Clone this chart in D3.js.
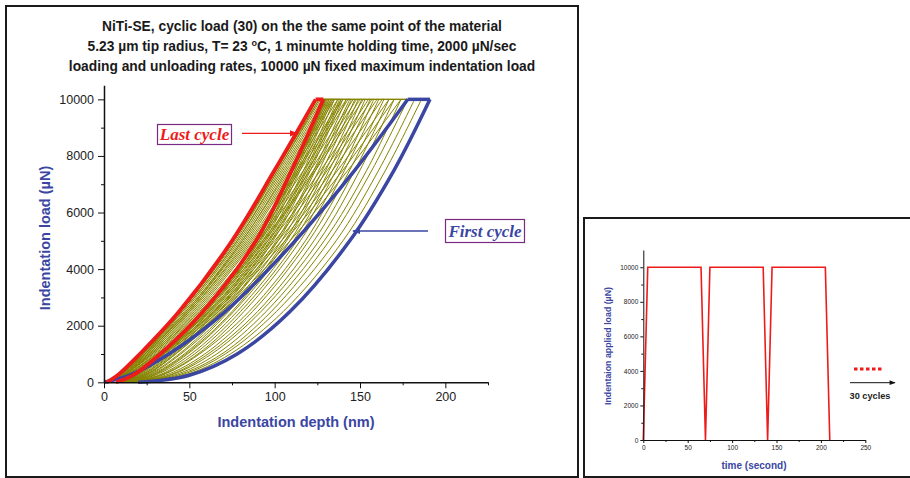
<!DOCTYPE html>
<html>
<head>
<meta charset="utf-8">
<script src="https://cdn.jsdelivr.net/npm/d3@7/dist/d3.min.js"></script>
<style>
body { margin: 0; background: #fff; }
svg { display: block; font-family: "Liberation Sans", Arial, sans-serif; }
.axis path, .axis line { stroke: #111; }
.axis text { fill: #222; font-family: "Liberation Sans", Arial, sans-serif; }
</style>
</head>
<body>
<script>

var loadLevels = [0, 250, 1000, 2500, 5000, 7500, 10000];

// first cycle (blue) and last cycle (red), depth in nm
var firstLoading   = [0, 15, 38, 71, 112, 147, 178];
var firstUnloading = [20, 50, 78, 109, 144, 170, 191];
var lastLoading    = [1.5, 8, 21, 44, 75, 100, 124];
var lastUnloading  = [7, 17, 33, 58, 89, 110, 128.5];

// cycles 2..29 (olive)
var oliveLoading = [
  [0, 15, 37, 69, 109, 143, 174],
  [0, 14, 35, 67, 106, 140, 170],
  [0, 14, 34, 65, 104, 137, 167],
  [0, 13, 33, 64, 102, 134, 163],
  [0, 13, 32, 62, 100, 131, 160],
  [1, 12, 31, 61, 98, 129, 157],
  [1, 12, 31, 59, 96, 127, 155],
  [1, 12, 30, 58, 94, 124, 152],
  [1, 11, 29, 57, 93, 123, 150],
  [1, 11, 28, 56, 91, 121, 148],
  [1, 11, 28, 55, 90, 119, 146],
  [1, 11, 27, 54, 88, 117, 143],
  [1, 10, 27, 53, 87, 115, 142],
  [1, 10, 26, 52, 86, 114, 140],
  [1, 10, 26, 51, 85, 113, 139],
  [1, 10, 25, 50, 84, 111, 137],
  [1, 9, 25, 50, 83, 110, 135],
  [1, 9, 24, 49, 82, 109, 134],
  [1, 9, 24, 49, 81, 108, 133],
  [1, 9, 24, 48, 81, 107, 132],
  [1, 9, 23, 48, 80, 106, 131],
  [1, 9, 23, 47, 79, 105, 130],
  [1, 9, 23, 46, 78, 104, 129],
  [1, 8, 22, 46, 78, 103, 128],
  [1, 8, 22, 45, 77, 102, 127],
  [1, 8, 22, 45, 76, 102, 126],
  [1, 8, 21, 45, 76, 101, 126],
  [1, 8, 21, 44, 76, 101, 125]
];
var oliveUnloading = [
  [19, 47, 74, 105, 140, 165, 186],
  [18, 45, 71, 101, 136, 161, 182],
  [17, 43, 69, 98, 132, 157, 178],
  [16, 41, 66, 95, 129, 154, 174],
  [16, 39, 63, 92, 126, 150, 170],
  [15, 38, 61, 90, 123, 147, 167],
  [14, 36, 59, 87, 120, 144, 164],
  [14, 34, 56, 85, 118, 141, 161],
  [13, 33, 55, 82, 115, 139, 158],
  [13, 32, 53, 80, 113, 136, 156],
  [12, 30, 51, 78, 111, 134, 153],
  [12, 29, 49, 76, 109, 132, 151],
  [11, 28, 48, 75, 107, 130, 149],
  [11, 27, 47, 73, 106, 128, 147],
  [11, 26, 45, 72, 104, 126, 145],
  [10, 25, 44, 70, 102, 124, 144],
  [10, 24, 42, 69, 101, 123, 142],
  [9, 24, 42, 68, 99, 121, 140],
  [9, 23, 41, 67, 98, 120, 139],
  [9, 22, 40, 66, 97, 119, 138],
  [9, 22, 39, 65, 96, 118, 137],
  [8, 21, 38, 64, 95, 117, 135],
  [8, 20, 37, 63, 94, 115, 134],
  [8, 20, 36, 62, 93, 114, 133],
  [8, 19, 35, 61, 92, 113, 132],
  [8, 19, 35, 60, 91, 112, 131],
  [7, 18, 34, 60, 91, 112, 130],
  [7, 18, 34, 59, 90, 111, 130]
];

var depthTicks = [0, 50, 100, 150, 200];
var depthMinor = [25, 75, 125, 175, 225];
var loadTicks = [0, 2000, 4000, 6000, 8000, 10000];
var loadMinor = [1000, 3000, 5000, 7000, 9000];

// inset: applied load vs time
var timeSec     = [0, 5, 65, 70, 75, 135, 140, 145, 205, 210];
var appliedLoad = [0, 10000, 10000, 0, 10000, 10000, 0, 10000, 10000, 0];
var timeTicks = [0, 50, 100, 150, 200, 250];
var timeMinor = [25, 75, 125, 175, 225];
var insetLoadTicks = [0, 2000, 4000, 6000, 8000, 10000];
var insetLoadMinor = [1000, 3000, 5000, 7000, 9000];

var titleLines = [
  "NiTi-SE, cyclic load (30) on the the same point of the material",
  "5.23 \u00b5m tip radius, T= 23 |C, 1 minumte holding time, 2000 \u00b5N/sec",
  "loading and unloading rates, 10000 \u00b5N fixed maximum indentation load"
];

var blue = "#3a46a2", red = "#ee1b1b", olive = "#868400", purple = "#7a2a80";

var svg = d3.select("body").append("svg").attr("width", 910).attr("height", 478);

// panel frames
svg.append("rect").attr("x", 6).attr("y", 6).attr("width", 572).attr("height", 471)
  .attr("fill", "none").attr("stroke", "#1a1a1a").attr("stroke-width", 2);
svg.append("rect").attr("x", 584).attr("y", 218).attr("width", 330).attr("height", 259)
  .attr("fill", "none").attr("stroke", "#1a1a1a").attr("stroke-width", 2);

// title
var title = svg.append("text").attr("text-anchor", "middle")
  .attr("font-weight", "bold").attr("font-size", 13.8).attr("fill", "#1a1a1a");
titleLines.forEach(function(l, i){
  var t = title.append("tspan").attr("x", 302).attr("y", 31 + i * 20);
  if (l.indexOf("|") >= 0) {
    var parts = l.split("|");
    t.text(parts[0]);
    title.append("tspan").attr("dy", -5).attr("font-size", 9).text("o");
    title.append("tspan").attr("dy", 5).text(parts[1]);
  } else {
    t.text(l);
  }
});

// main chart scales
var x = d3.scaleLinear().domain([0, 225]).range([104, 488]);
var y = d3.scaleLinear().domain([0, 10500]).range([382.3, 85.2]);

function curvePath(depths){
  return d3.line()
    .x(function(d){ return x(d); })
    .y(function(d, i){ return y(loadLevels[i]); })
    .curve(d3.curveCatmullRom.alpha(0.5))(depths);
}

function drawCycle(g, load, unload, color, width){
  g.append("path").attr("d", curvePath(load)).attr("fill", "none")
    .attr("stroke", color).attr("stroke-width", width).attr("stroke-linejoin", "round");
  g.append("path").attr("d", curvePath(unload)).attr("fill", "none")
    .attr("stroke", color).attr("stroke-width", width).attr("stroke-linejoin", "round");
  var top = loadLevels[loadLevels.length - 1];
  g.append("line")
    .attr("x1", x(load[load.length - 1])).attr("x2", x(unload[unload.length - 1]))
    .attr("y1", y(top)).attr("y2", y(top))
    .attr("stroke", color).attr("stroke-width", width);
}

var curves = svg.append("g");
oliveLoading.forEach(function(l, i){
  drawCycle(curves, l, oliveUnloading[i], olive, 1);
});
drawCycle(curves, firstLoading, firstUnloading, blue, 3.5);
drawCycle(curves, lastLoading, lastUnloading, red, 3.8);

// axes
var fmt = d3.format("d");
svg.append("g").attr("class", "axis").attr("transform", "translate(0,382.3)")
  .call(d3.axisBottom(x).tickValues(depthTicks).tickFormat(fmt).tickSize(6).tickSizeOuter(0).tickPadding(4))
  .call(function(g){ g.selectAll("text").attr("font-size", 12.5); g.select(".domain").attr("stroke-width", 1.5); });
svg.append("g").attr("class", "axis").attr("transform", "translate(0,382.3)")
  .call(d3.axisBottom(x).tickValues(depthMinor).tickSize(3).tickSizeOuter(0).tickFormat(""))
  .call(function(g){ g.select(".domain").remove(); });
svg.append("g").attr("class", "axis").attr("transform", "translate(104,0)")
  .call(d3.axisLeft(y).tickValues(loadTicks).tickFormat(fmt).tickSize(6).tickSizeOuter(0).tickPadding(4))
  .call(function(g){ g.selectAll("text").attr("font-size", 12.5); g.select(".domain").attr("stroke-width", 1.5); });
svg.append("g").attr("class", "axis").attr("transform", "translate(104,0)")
  .call(d3.axisLeft(y).tickValues(loadMinor).tickSize(3).tickSizeOuter(0).tickFormat(""))
  .call(function(g){ g.select(".domain").remove(); });

svg.append("text").text("Indentation depth (nm)")
  .attr("x", 296).attr("y", 427).attr("text-anchor", "middle")
  .attr("font-weight", "bold").attr("font-size", 14.5).attr("fill", blue);
svg.append("text").text("Indentation load (\u00b5N)")
  .attr("transform", "translate(50,238) rotate(-90)").attr("text-anchor", "middle")
  .attr("font-weight", "bold").attr("font-size", 14.5).attr("fill", blue);

// arrow markers
var defs = svg.append("defs");
[["arrRed", red], ["arrBlue", blue], ["arrBlack", "#111"]].forEach(function(m){
  defs.append("marker").attr("id", m[0]).attr("viewBox", "0 0 10 10")
    .attr("refX", 9).attr("refY", 5).attr("markerWidth", 7).attr("markerHeight", 6)
    .attr("orient", "auto")
    .append("path").attr("d", "M0,1 L10,5 L0,9 z").attr("fill", m[1]);
});

// annotations
svg.append("rect").attr("x", 157.5).attr("y", 124.5).attr("width", 74).attr("height", 20)
  .attr("fill", "#fff").attr("stroke", purple).attr("stroke-width", 1.2);
svg.append("text").text("Last cycle").attr("x", 194.5).attr("y", 140)
  .attr("text-anchor", "middle").attr("font-family", "Liberation Serif, serif")
  .attr("font-style", "italic").attr("font-weight", "bold").attr("font-size", 17).attr("fill", red);
svg.append("line").attr("x1", 242).attr("y1", 133.3).attr("x2", 297).attr("y2", 133.3)
  .attr("stroke", red).attr("stroke-width", 1.3).attr("marker-end", "url(#arrRed)");

svg.append("rect").attr("x", 445.5).attr("y", 219.5).attr("width", 79).attr("height", 23)
  .attr("fill", "#fff").attr("stroke", purple).attr("stroke-width", 1.2);
svg.append("text").text("First cycle").attr("x", 485).attr("y", 237)
  .attr("text-anchor", "middle").attr("font-family", "Liberation Serif, serif")
  .attr("font-style", "italic").attr("font-weight", "bold").attr("font-size", 17).attr("fill", blue);
svg.append("line").attr("x1", 428).attr("y1", 231).attr("x2", 353).attr("y2", 231)
  .attr("stroke", blue).attr("stroke-width", 1.3).attr("marker-end", "url(#arrBlue)");

// inset chart
var xi = d3.scaleLinear().domain([0, 250]).range([643.3, 865.3]);
var yi = d3.scaleLinear().domain([0, 11000]).range([440, 250]);

svg.append("path").datum(timeSec.map(function(t, i){ return [t, appliedLoad[i]]; }))
  .attr("d", d3.line().x(function(d){ return xi(d[0]); }).y(function(d){ return yi(d[1]); }))
  .attr("fill", "none").attr("stroke", red).attr("stroke-width", 1.6);

svg.append("g").attr("class", "axis").attr("transform", "translate(0,440)")
  .call(d3.axisBottom(xi).tickValues(timeTicks).tickFormat(fmt).tickSize(3).tickSizeOuter(0).tickPadding(2))
  .call(function(g){ g.selectAll("text").attr("font-size", 6.5); });
svg.append("g").attr("class", "axis").attr("transform", "translate(0,440)")
  .call(d3.axisBottom(xi).tickValues(timeMinor).tickSize(2).tickSizeOuter(0).tickFormat(""))
  .call(function(g){ g.select(".domain").remove(); });
svg.append("g").attr("class", "axis").attr("transform", "translate(643.3,0)")
  .call(d3.axisLeft(yi).tickValues(insetLoadTicks).tickFormat(fmt).tickSize(3).tickSizeOuter(0).tickPadding(2))
  .call(function(g){ g.selectAll("text").attr("font-size", 6.5); });
svg.append("g").attr("class", "axis").attr("transform", "translate(643.3,0)")
  .call(d3.axisLeft(yi).tickValues(insetLoadMinor).tickSize(2).tickSizeOuter(0).tickFormat(""))
  .call(function(g){ g.select(".domain").remove(); });

svg.append("text").text("time (second)")
  .attr("x", 754).attr("y", 469).attr("text-anchor", "middle")
  .attr("font-weight", "bold").attr("font-size", 10).attr("fill", blue);
svg.append("text").text("Indentaion applied load (\u00b5N)")
  .attr("transform", "translate(611,346) rotate(-90)").attr("text-anchor", "middle")
  .attr("font-weight", "bold").attr("font-size", 8.8).attr("fill", blue);

// "more cycles" marks
svg.append("line").attr("x1", 854).attr("x2", 884).attr("y1", 369).attr("y2", 369)
  .attr("stroke", red).attr("stroke-width", 3).attr("stroke-dasharray", "3.5,2.5");
svg.append("line").attr("x1", 850).attr("x2", 895).attr("y1", 382.7).attr("y2", 382.7)
  .attr("stroke", "#111").attr("stroke-width", 1).attr("marker-end", "url(#arrBlack)");
svg.append("text").text("30 cycles").attr("x", 870).attr("y", 399)
  .attr("text-anchor", "middle").attr("font-weight", "bold").attr("font-size", 9.2).attr("fill", "#222");

</script>
</body>
</html>
